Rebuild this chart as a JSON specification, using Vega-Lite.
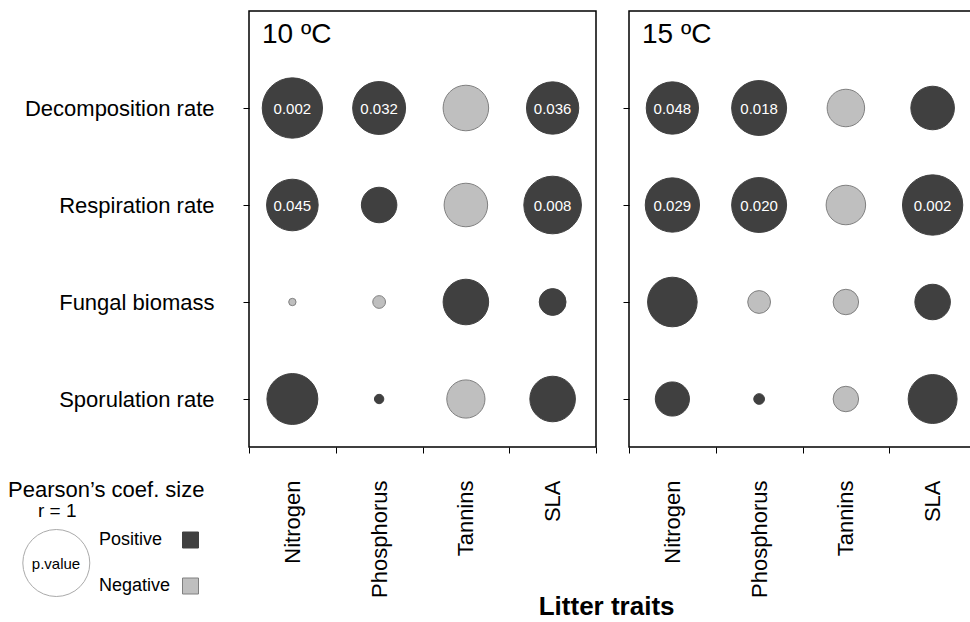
{
  "$schema": "https://vega.github.io/schema/vega-lite/v6.json",
  "padding": {"left": 8, "top": 10, "right": 0, "bottom": 0},
  "config": {
    "font": "Liberation Sans",
    "view": {"stroke": "black", "strokeWidth": 1.5},
    "axis": {"labelColor": "black", "tickColor": "black", "labelFont": "Liberation Sans", "tickWidth": 1, "labelLimit": 400},
    "legend": {"labelColor": "black", "titleColor": "black", "labelFont": "Liberation Sans", "titleFont": "Liberation Sans", "labelLimit": 400, "titleLimit": 400}
  },
  "title": {
    "text": "Litter traits",
    "orient": "bottom",
    "anchor": "middle",
    "dx": 114,
    "offset": -5,
    "fontSize": 26,
    "fontWeight": "bold",
    "color": "black",
    "font": "Liberation Sans"
  },
  "data": {
    "values": [
      {"temp": "10 ºC", "response": "Decomposition rate", "trait": "Nitrogen", "abs_r": 0.90, "direction": "Positive", "p": "0.002"},
      {"temp": "10 ºC", "response": "Decomposition rate", "trait": "Phosphorus", "abs_r": 0.79, "direction": "Positive", "p": "0.032"},
      {"temp": "10 ºC", "response": "Decomposition rate", "trait": "Tannins", "abs_r": 0.68, "direction": "Negative", "p": null},
      {"temp": "10 ºC", "response": "Decomposition rate", "trait": "SLA", "abs_r": 0.78, "direction": "Positive", "p": "0.036"},
      {"temp": "10 ºC", "response": "Respiration rate", "trait": "Nitrogen", "abs_r": 0.77, "direction": "Positive", "p": "0.045"},
      {"temp": "10 ºC", "response": "Respiration rate", "trait": "Phosphorus", "abs_r": 0.53, "direction": "Positive", "p": null},
      {"temp": "10 ºC", "response": "Respiration rate", "trait": "Tannins", "abs_r": 0.65, "direction": "Negative", "p": null},
      {"temp": "10 ºC", "response": "Respiration rate", "trait": "SLA", "abs_r": 0.86, "direction": "Positive", "p": "0.008"},
      {"temp": "10 ºC", "response": "Fungal biomass", "trait": "Nitrogen", "abs_r": 0.11, "direction": "Negative", "p": null},
      {"temp": "10 ºC", "response": "Fungal biomass", "trait": "Phosphorus", "abs_r": 0.19, "direction": "Negative", "p": null},
      {"temp": "10 ºC", "response": "Fungal biomass", "trait": "Tannins", "abs_r": 0.68, "direction": "Positive", "p": null},
      {"temp": "10 ºC", "response": "Fungal biomass", "trait": "SLA", "abs_r": 0.40, "direction": "Positive", "p": null},
      {"temp": "10 ºC", "response": "Sporulation rate", "trait": "Nitrogen", "abs_r": 0.76, "direction": "Positive", "p": null},
      {"temp": "10 ºC", "response": "Sporulation rate", "trait": "Phosphorus", "abs_r": 0.14, "direction": "Positive", "p": null},
      {"temp": "10 ºC", "response": "Sporulation rate", "trait": "Tannins", "abs_r": 0.57, "direction": "Negative", "p": null},
      {"temp": "10 ºC", "response": "Sporulation rate", "trait": "SLA", "abs_r": 0.68, "direction": "Positive", "p": null},
      {"temp": "15 ºC", "response": "Decomposition rate", "trait": "Nitrogen", "abs_r": 0.78, "direction": "Positive", "p": "0.048"},
      {"temp": "15 ºC", "response": "Decomposition rate", "trait": "Phosphorus", "abs_r": 0.82, "direction": "Positive", "p": "0.018"},
      {"temp": "15 ºC", "response": "Decomposition rate", "trait": "Tannins", "abs_r": 0.56, "direction": "Negative", "p": null},
      {"temp": "15 ºC", "response": "Decomposition rate", "trait": "SLA", "abs_r": 0.65, "direction": "Positive", "p": null},
      {"temp": "15 ºC", "response": "Respiration rate", "trait": "Nitrogen", "abs_r": 0.81, "direction": "Positive", "p": "0.029"},
      {"temp": "15 ºC", "response": "Respiration rate", "trait": "Phosphorus", "abs_r": 0.82, "direction": "Positive", "p": "0.020"},
      {"temp": "15 ºC", "response": "Respiration rate", "trait": "Tannins", "abs_r": 0.59, "direction": "Negative", "p": null},
      {"temp": "15 ºC", "response": "Respiration rate", "trait": "SLA", "abs_r": 0.90, "direction": "Positive", "p": "0.002"},
      {"temp": "15 ºC", "response": "Fungal biomass", "trait": "Nitrogen", "abs_r": 0.74, "direction": "Positive", "p": null},
      {"temp": "15 ºC", "response": "Fungal biomass", "trait": "Phosphorus", "abs_r": 0.34, "direction": "Negative", "p": null},
      {"temp": "15 ºC", "response": "Fungal biomass", "trait": "Tannins", "abs_r": 0.38, "direction": "Negative", "p": null},
      {"temp": "15 ºC", "response": "Fungal biomass", "trait": "SLA", "abs_r": 0.53, "direction": "Positive", "p": null},
      {"temp": "15 ºC", "response": "Sporulation rate", "trait": "Nitrogen", "abs_r": 0.51, "direction": "Positive", "p": null},
      {"temp": "15 ºC", "response": "Sporulation rate", "trait": "Phosphorus", "abs_r": 0.16, "direction": "Positive", "p": null},
      {"temp": "15 ºC", "response": "Sporulation rate", "trait": "Tannins", "abs_r": 0.38, "direction": "Negative", "p": null},
      {"temp": "15 ºC", "response": "Sporulation rate", "trait": "SLA", "abs_r": 0.73, "direction": "Positive", "p": null}
    ]
  },
  "spacing": 19,
  "hconcat": [
    {
      "width": 347,
      "height": 436,
      "title": {"text": "10 ºC", "anchor": "start", "frame": "group", "fontSize": 28, "fontWeight": "normal", "color": "black", "font": "Liberation Sans", "baseline": "alphabetic", "offset": -60, "dx": 13},
      "transform": [{"filter": "datum.temp === '10 ºC'"}],
      "encoding": {
        "x": {"field": "trait", "type": "nominal", "sort": ["Nitrogen", "Phosphorus", "Tannins", "SLA"],
          "scale": {"type": "band", "paddingInner": 0, "paddingOuter": 0},
          "axis": {"title": null, "domain": false, "tickBand": "extent", "tickSize": 6, "labelAngle": -90, "labelAlign": "right", "labelBaseline": "middle", "labelFontSize": 22, "labelPadding": 27}},
        "y": {"field": "response", "type": "nominal", "sort": ["Decomposition rate", "Respiration rate", "Fungal biomass", "Sporulation rate"],
          "scale": {"type": "point", "padding": 0.7474, "align": 0.669},
          "axis": {"title": null, "domain": false, "tickSize": 6, "labelFontSize": 22, "labelPadding": 29}}
      },
      "layer": [
        {
          "mark": {"type": "circle", "opacity": 1, "strokeWidth": 1},
          "encoding": {
            "fill": {"field": "direction", "type": "nominal", "scale": {"domain": ["Positive", "Negative"], "range": ["#404040", "#bfbfbf"]},
              "legend": {"orient": "none", "legendX": -151, "legendY": 520, "title": null, "symbolType": "square", "symbolSize": 256, "labelFontSize": 18, "labelOffset": -100.5, "labelAlign": "left", "symbolOffset": 83.5, "rowPadding": 26, "padding": 0, "symbolStrokeWidth": 1}},
            "stroke": {"field": "direction", "type": "nominal", "scale": {"domain": ["Positive", "Negative"], "range": ["#404040", "#808080"]},
              "legend": {"orient": "none", "legendX": -151, "legendY": 520, "title": null, "symbolType": "square", "symbolSize": 256, "labelFontSize": 18, "labelOffset": -100.5, "labelAlign": "left", "symbolOffset": 83.5, "rowPadding": 26, "padding": 0, "symbolStrokeWidth": 1}},
            "size": {"field": "abs_r", "type": "quantitative", "scale": {"type": "pow", "exponent": 2, "domain": [0, 1], "range": [0, 4489]},
              "legend": {"orient": "none", "legendX": -226.7, "legendY": 491, "title": "r = 1", "titleFontSize": 19, "titleFontWeight": "normal", "titleAnchor": "middle", "titleAlign": "center", "titlePadding": 8, "values": [1], "labelExpr": "''", "labelOffset": 0, "symbolOffset": 0, "symbolType": "circle", "padding": 0, "symbolFillColor": "white", "symbolStrokeColor": "#aaaaaa", "symbolStrokeWidth": 1,
                "encode": {"symbols": {"fill": {"value": "white"}, "stroke": {"value": "#aaaaaa"}, "strokeWidth": {"value": 1}}}}}
          }
        },
        {
          "transform": [{"filter": "datum.p != null"}],
          "mark": {"type": "text", "fill": "white", "fontSize": 15, "baseline": "middle", "dy": 1},
          "encoding": {
            "text": {"field": "p", "type": "nominal"},
            "opacity": {"datum": "p.value", "type": "nominal", "scale": {"type": "point", "domain": ["p.value"], "range": [1, 1]},
              "legend": {"orient": "none", "legendX": -241, "legendY": 469, "title": "Pearson’s coef. size", "titleFontSize": 22, "titleFontWeight": "normal", "titlePadding": 54.5, "symbolSize": 0, "symbolStrokeWidth": 0, "symbolOpacity": 0, "labelOffset": 33, "labelAlign": "center", "labelFontSize": 15, "padding": 0}}
          }
        }
      ]
    },
    {
      "width": 347,
      "height": 436,
      "title": {"text": "15 ºC", "anchor": "start", "frame": "group", "fontSize": 28, "fontWeight": "normal", "color": "black", "font": "Liberation Sans", "baseline": "alphabetic", "offset": -60, "dx": 13},
      "transform": [{"filter": "datum.temp === '15 ºC'"}],
      "encoding": {
        "x": {"field": "trait", "type": "nominal", "sort": ["Nitrogen", "Phosphorus", "Tannins", "SLA"],
          "scale": {"type": "band", "paddingInner": 0, "paddingOuter": 0},
          "axis": {"title": null, "domain": false, "tickBand": "extent", "tickSize": 6, "labelAngle": -90, "labelAlign": "right", "labelBaseline": "middle", "labelFontSize": 22, "labelPadding": 27}},
        "y": {"field": "response", "type": "nominal", "sort": ["Decomposition rate", "Respiration rate", "Fungal biomass", "Sporulation rate"],
          "scale": {"type": "point", "padding": 0.7474, "align": 0.669},
          "axis": {"title": null, "domain": false, "tickSize": 6, "labels": false}}
      },
      "layer": [
        {
          "mark": {"type": "circle", "opacity": 1, "strokeWidth": 1},
          "encoding": {
            "fill": {"field": "direction", "type": "nominal"},
            "stroke": {"field": "direction", "type": "nominal"},
            "size": {"field": "abs_r", "type": "quantitative"}
          }
        },
        {
          "transform": [{"filter": "datum.p != null"}],
          "mark": {"type": "text", "fill": "white", "fontSize": 15, "baseline": "middle", "dy": 1},
          "encoding": {
            "text": {"field": "p", "type": "nominal"},
            "opacity": {"datum": "p.value", "type": "nominal"}
          }
        }
      ]
    }
  ]
}
